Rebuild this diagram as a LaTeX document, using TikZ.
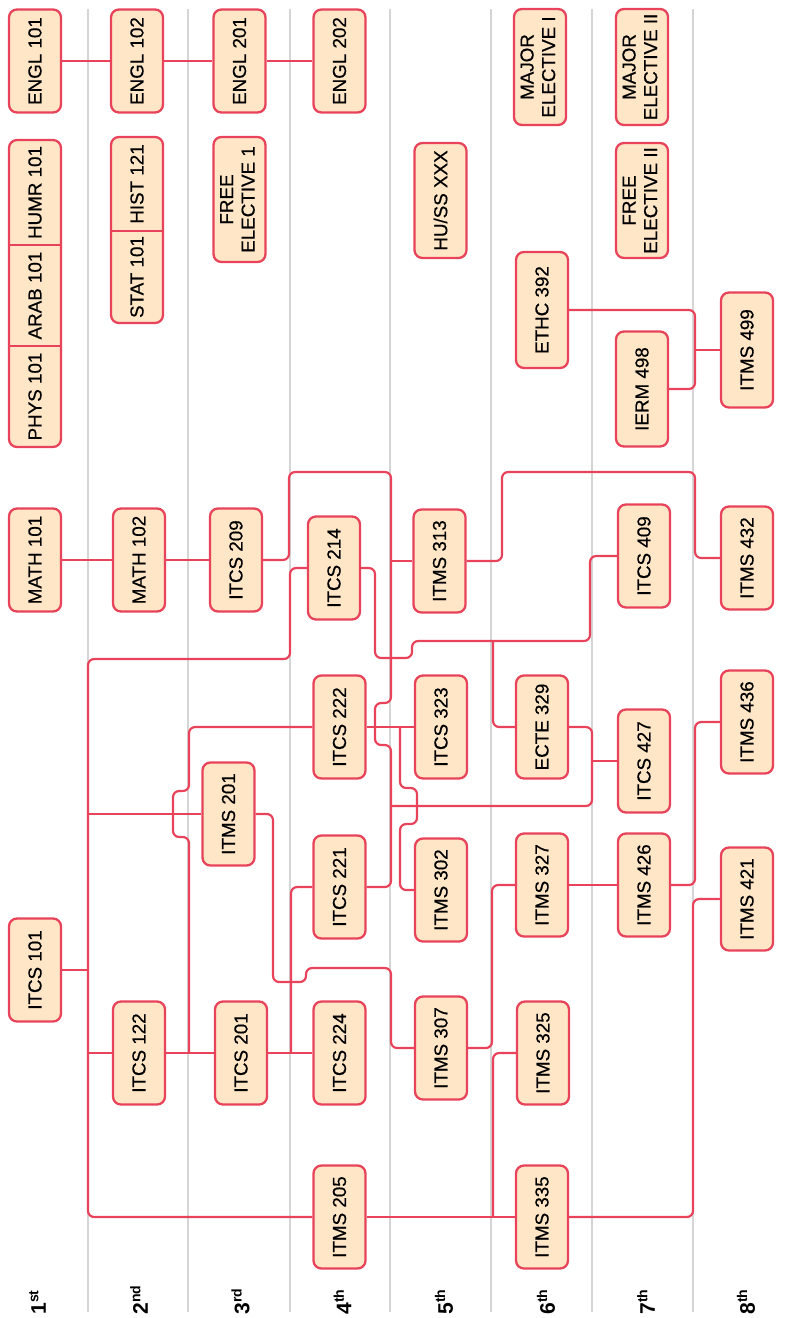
\documentclass[tikz,border=0pt]{standalone}
\usepackage{fontspec}
\setmainfont{Liberation Sans}
\newfontfamily\crsfont{Liberation Sans}[FakeBold=0.5]
\usepackage{graphicx,xcolor,tikz}
\definecolor{crsline}{HTML}{E8435A}
\definecolor{crsfill}{HTML}{FFE6C6}
\definecolor{semline}{HTML}{D5D5D5}
\newcommand\crs[1]{\rotatebox{90}{#1}}
\newcommand\twoline[2]{\rotatebox{90}{\begin{tabular}{@{}c@{}}#1\\#2\end{tabular}}}
\begin{document}
\begin{tikzpicture}[x=0.02cm,y=-0.02cm,
  course/.style={draw=crsline,fill=crsfill,line width=1.3pt,rounded corners=4.5pt,minimum width=1.04cm,minimum height=2.06cm,inner sep=0pt,font=\crsfont\fontsize{10.7}{12.3}\selectfont},
  cell/.style={inner sep=0pt,font=\crsfont\fontsize{10.7}{12.3}\selectfont},
  divider/.style={draw=crsline,line width=1.3pt},
  link/.style={draw=crsline,line width=1.25pt,rounded corners=3.5pt},
  semsep/.style={draw=semline,line width=1.1pt},
  sem/.style={anchor=south,inner sep=0pt,font=\fontsize{12}{14}\selectfont\bfseries}]
\useasboundingbox (0,0) rectangle (786,1318);
\draw[semsep] (88,9)--(88,1312);
\draw[semsep] (188,9)--(188,1312);
\draw[semsep] (290,9)--(290,1312);
\draw[semsep] (390,9)--(390,1312);
\draw[semsep] (491,9)--(491,1312);
\draw[semsep] (592,9)--(592,1312);
\draw[semsep] (693,9)--(693,1312);
\node[sem] (sem1) at (37.5,1315) {\crs{1\textsuperscript{st}}};
\node[sem] (sem2) at (139,1315) {\crs{2\textsuperscript{nd}}};
\node[sem] (sem3) at (240.5,1315) {\crs{3\textsuperscript{rd}}};
\node[sem] (sem4) at (342.5,1315) {\crs{4\textsuperscript{th}}};
\node[sem] (sem5) at (444,1315) {\crs{5\textsuperscript{th}}};
\node[sem] (sem6) at (546,1315) {\crs{6\textsuperscript{th}}};
\node[sem] (sem7) at (646,1315) {\crs{7\textsuperscript{th}}};
\node[sem] (sem8) at (746,1315) {\crs{8\textsuperscript{th}}};
\node[course] (engl101) at (35,61) {\crs{ENGL 101}};
\node[course] (engl102) at (137,61) {\crs{ENGL 102}};
\node[course] (engl201) at (239.5,61) {\crs{ENGL 201}};
\node[course] (engl202) at (339.5,61) {\crs{ENGL 202}};
\node[course,minimum height=6.14cm] (gen1) at (35,293.5) {};
\node[cell] (humr101) at (35,192.5) {\crs{HUMR 101}};
\node[cell] (arab101) at (35,295.5) {\crs{ARAB 101}};
\node[cell] (phys101) at (35,396.5) {\crs{PHYS 101}};
\draw[divider] (gen1.west |- 0,245)--(gen1.east |- 0,245);
\draw[divider] (gen1.west |- 0,346)--(gen1.east |- 0,346);
\node[course,minimum height=3.72cm] (gen2) at (137,230) {};
\node[cell] (hist121) at (137,184) {\crs{HIST 121}};
\node[cell] (stat101) at (137,277) {\crs{STAT 101}};
\draw[divider] (gen2.west |- 0,231)--(gen2.east |- 0,231);
\node[course,minimum height=2.5cm] (free1) at (239.5,199.5) {\twoline{FREE}{ELECTIVE 1}};
\node[course,minimum height=2.3cm] (huss) at (440.5,200.5) {\crs{HU/SS XXX}};
\node[course,minimum height=2.32cm] (major1) at (540,67) {\twoline{MAJOR}{ELECTIVE I}};
\node[course,minimum height=2.32cm] (major2) at (642,67) {\twoline{MAJOR}{ELECTIVE II}};
\node[course,minimum height=2.3cm] (free2) at (642,200.5) {\twoline{FREE}{ELECTIVE II}};
\node[course,minimum height=2.32cm] (ethc392) at (542,310) {\crs{ETHC 392}};
\node[course,minimum height=2.3cm] (ierm498) at (642,389) {\crs{IERM 498}};
\node[course,minimum height=2.3cm] (itms499) at (747,350) {\crs{ITMS 499}};
\node[course] (math101) at (35,560) {\crs{MATH 101}};
\node[course] (math102) at (139,560) {\crs{MATH 102}};
\node[course] (itcs209) at (236,560) {\crs{ITCS 209}};
\node[course] (itcs214) at (334,568) {\crs{ITCS 214}};
\node[course] (itms313) at (439.5,561) {\crs{ITMS 313}};
\node[course] (itcs409) at (644,556) {\crs{ITCS 409}};
\node[course] (itms432) at (747,558) {\crs{ITMS 432}};
\node[course] (itcs222) at (339.5,727) {\crs{ITCS 222}};
\node[course] (itcs323) at (441,727) {\crs{ITCS 323}};
\node[course] (ecte329) at (542,727) {\crs{ECTE 329}};
\node[course] (itcs427) at (644,761) {\crs{ITCS 427}};
\node[course] (itms436) at (747,722) {\crs{ITMS 436}};
\node[course] (itms201) at (228.5,814) {\crs{ITMS 201}};
\node[course] (itcs221) at (339.5,887) {\crs{ITCS 221}};
\node[course] (itms302) at (441,890) {\crs{ITMS 302}};
\node[course] (itms327) at (542,885) {\crs{ITMS 327}};
\node[course] (itms426) at (644,885) {\crs{ITMS 426}};
\node[course] (itms421) at (747,899) {\crs{ITMS 421}};
\node[course] (itcs101) at (35,970) {\crs{ITCS 101}};
\node[course] (itcs122) at (139,1053) {\crs{ITCS 122}};
\node[course] (itcs201) at (241,1053) {\crs{ITCS 201}};
\node[course] (itcs224) at (339.5,1053) {\crs{ITCS 224}};
\node[course] (itms307) at (441,1048) {\crs{ITMS 307}};
\node[course] (itms325) at (543,1053) {\crs{ITMS 325}};
\node[course] (itms205) at (339.5,1217) {\crs{ITMS 205}};
\node[course] (itms335) at (542,1217) {\crs{ITMS 335}};
\coordinate (bus) at (391,472);
\coordinate (trunk) at (88,659);
\coordinate (j427) at (592,806);
\coordinate (j409) at (493,641);
\coordinate (j222) at (189,1053);
\coordinate (j221) at (291,1053);
\coordinate (j302) at (400,727);
\coordinate (j325) at (493,1217);
\coordinate (j499) at (695,350);
\draw[link] (engl101.east)--(engl102.west);
\draw[link] (engl102.east)--(engl201.west);
\draw[link] (engl201.east)--(engl202.west);
\draw[link] (math101.east)--(math102.west);
\draw[link] (math102.east)--(itcs209.west);
\draw[link] (ethc392.east) -| (j499) |- (ierm498.east);
\draw[link] (itms499.west)--(j499);
\draw[link] (itcs209.east) -| (289,472)--(bus)--(391,703)--(375,703)--(375,745)--(391,745) |- (itcs221.east);
\draw[link] (itms313.west)--(itms313.west -| bus);
\draw[link] (ecte329.east) -| (j427)--(j427 -| bus);
\draw[link] (itcs427.west)--(itcs427.west -| j427);
\draw[link] (itcs214.east) -| (375,658) -| (412,641)--(590,641) |- (itcs409.west);
\draw[link] (j409) |- (ecte329.west);
\draw[link] (itms313.east) -| (502,472)--(695,472) |- (itms432.west);
\draw[link] (itcs214.west) -| (290,659)--(trunk) |- (itms205.west);
\draw[link] (itcs101.east)--(itcs101.east -| trunk);
\draw[link] (itcs122.west)--(itcs122.west -| trunk);
\draw[link] (itms201.west)--(itms201.west -| trunk);
\draw[link] (itcs122.east)--(itcs201.west);
\draw[link] (itcs201.east)--(itcs224.west);
\draw[link] (itcs222.west) -| (189,791)--(173,791)--(173,837)--(189,837)--(j222);
\draw[link] (j221) |- (itcs221.west);
\draw[link] (itms201.east) -| (273,982)--(306,982)--(306,968)--(391,968) |- (itms307.west);
\draw[link] (itms307.east)--(492,1048) |- (itms327.west);
\draw[link] (itms327.east)--(itms426.west);
\draw[link] (itms426.east)--(695,885) |- (itms436.west);
\draw[link] (itcs222.east)--(itcs323.west);
\draw[link] (j302)--(400,788)--(417,788)--(417,824)--(400,824) |- (itms302.west);
\draw[link] (itms205.east)--(itms335.west);
\draw[link] (j325) |- (itms325.west);
\draw[link] (itms335.east)--(693,1217) |- (itms421.west);
\end{tikzpicture}
\end{document}
